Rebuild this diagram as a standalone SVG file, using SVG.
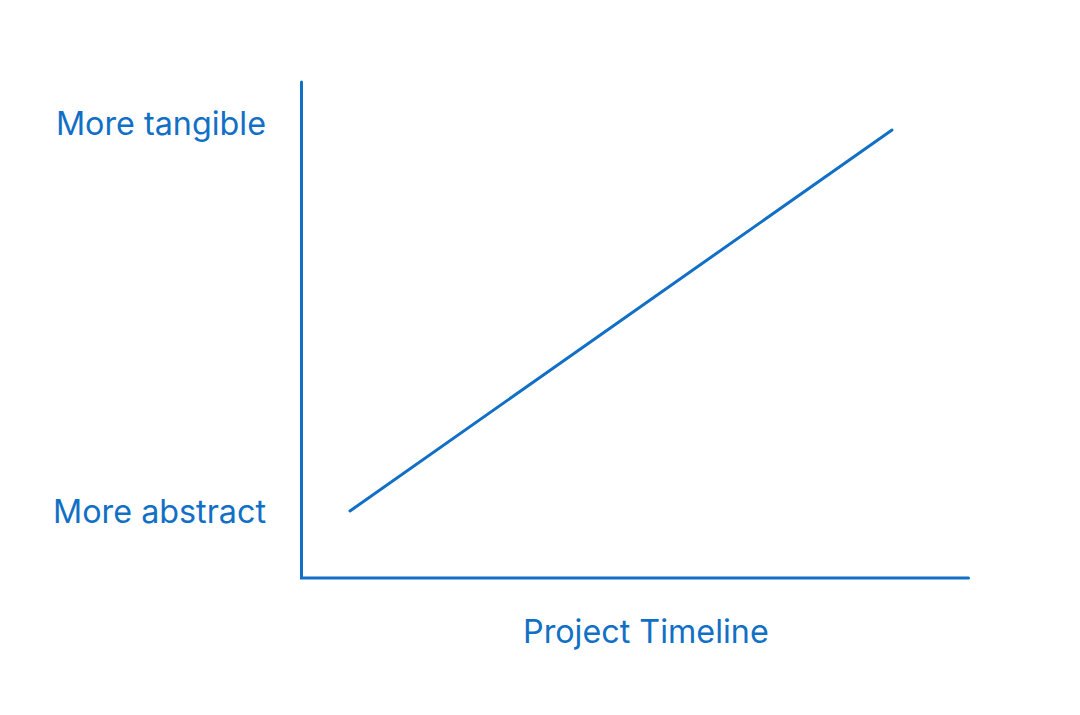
<svg xmlns="http://www.w3.org/2000/svg" width="1080" height="715" viewBox="0 0 1080 715">
<style>
.lbl{font-family:Inter,"Noto Sans","Liberation Sans",sans-serif;font-size:32.3px;fill:#1170C6}
.ln{stroke:#1170C6;stroke-width:3;fill:none;stroke-linecap:round}
</style>
<rect width="1080" height="715" fill="#ffffff"/>
<g id="axes">
<path class="ln" d="M301.5,82 V578 H968.5" stroke-linecap="butt" stroke-linejoin="miter"/>
</g>
<g id="trend">
<line class="ln" x1="350" y1="511" x2="892" y2="130"/>
</g>
<g id="label-tangible"><text class="lbl" x="266" y="135" text-anchor="end">More tangible</text></g>
<g id="label-abstract"><text class="lbl" x="266" y="523" text-anchor="end">More abstract</text></g>
<g id="label-timeline"><text class="lbl" x="523" y="643">Project Timeline</text></g>
</svg>
